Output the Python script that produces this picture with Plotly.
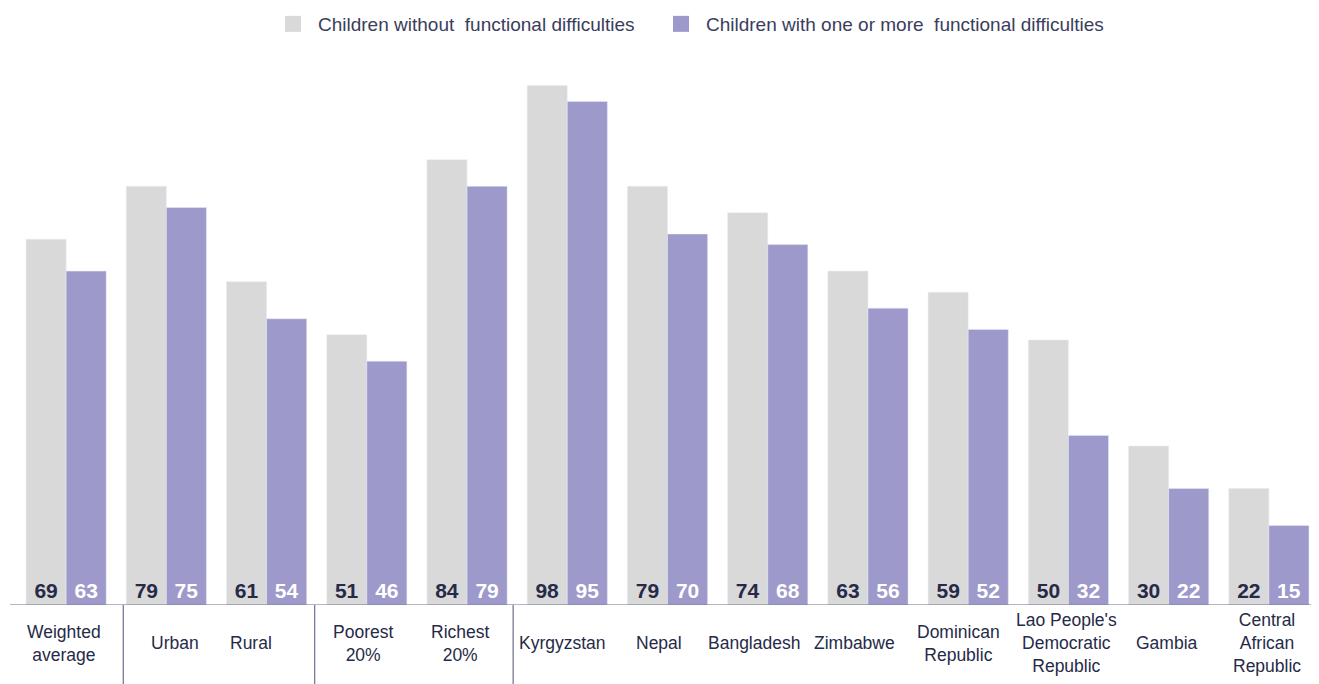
import plotly.graph_objects as go

categories = ["Weighted<br>average", "Urban", "Rural", "Poorest<br>20%", "Richest<br>20%",
              "Kyrgyzstan", "Nepal", "Bangladesh", "Zimbabwe", "Dominican<br>Republic",
              "Lao People's<br>Democratic<br>Republic", "Gambia", "Central<br>African<br>Republic"]
without_difficulties = [69, 79, 61, 51, 84, 98, 79, 74, 63, 59, 50, 30, 22]
with_difficulties = [63, 75, 54, 46, 79, 95, 70, 68, 56, 52, 32, 22, 15]
series_names = ["Children without  functional difficulties",
                "Children with one or more  functional difficulties"]
separators_after = [0, 2, 4]

GRAY = "#d9d9d9"
PURPLE = "#9d99ca"
NAVY = "#262a48"
LINE = "#6b6f8a"
FONT = "Liberation Sans, Arial, sans-serif"

# page has an 8px body margin: work in page pixels, convert to figure pixels
OFF = 8
W, H = 1319 - OFF, 684 - OFF
TOP, BASE = 60 - OFF, 605 - OFF   # plot area top / baseline in figure px
H_PLOT = BASE - TOP

x = list(range(len(categories)))

fig = go.Figure()
fig.add_bar(x=x, y=without_difficulties, name=series_names[0], marker_color=GRAY,
            text=without_difficulties, textposition="inside", insidetextanchor="start",
            textangle=0, showlegend=False,
            textfont=dict(family=FONT, size=21, color=NAVY, weight="bold"),
            hoverinfo="skip")
fig.add_bar(x=x, y=with_difficulties, name=series_names[1], marker_color=PURPLE,
            text=with_difficulties, textposition="inside", insidetextanchor="start",
            textangle=0, showlegend=False,
            textfont=dict(family=FONT, size=21, color="white", weight="bold"),
            hoverinfo="skip")
for name, col, lg in zip(series_names, [GRAY, PURPLE], ["legend", "legend2"]):
    fig.add_scatter(x=[None], y=[None], mode="markers", name=name, legend=lg,
                    marker=dict(symbol="square", size=17, color=col), hoverinfo="skip")

# small horizontal nudges of the category captions (style, px)
label_xshift = [-2, 9, -16, -4, -7, -5, -9, -14, -13, -10, -2, -2, -2]
CENTER = 643 - OFF
for i, c in enumerate(categories):
    fig.add_annotation(x=i, y=-(CENTER - BASE) / H_PLOT, xref="x", yref="paper", text=c,
                       showarrow=False, yanchor="middle", xanchor="center",
                       xshift=label_xshift[i],
                       font=dict(family=FONT, size=17.5, color=NAVY))

sep_adjust = [0.07, -0.02, -0.04]
for s, adj in zip(separators_after, sep_adjust):
    fig.add_shape(type="line", xref="x", yref="paper", x0=s + 0.5 + adj, x1=s + 0.5 + adj,
                  y0=0, y1=-(H - BASE) / H_PLOT, line=dict(color=LINE, width=1.2))

fig.add_shape(type="line", xref="paper", yref="y", x0=0, x1=1, y0=0, y1=0,
              line=dict(color=LINE, width=1.2))

legend_common = dict(orientation="h", xref="container", xanchor="left",
                     yref="container", y=1 - (24 - OFF) / H, yanchor="middle",
                     font=dict(family=FONT, size=19, color="#3a3d5c"),
                     itemwidth=40, bgcolor="rgba(0,0,0,0)")

fig.update_layout(
    width=W, height=H,
    margin=dict(l=10 - OFF, r=0, t=TOP, b=H - BASE, autoexpand=False),
    paper_bgcolor="white", plot_bgcolor="white",
    barmode="group", bargap=0.2, bargroupgap=0,
    font=dict(family=FONT, color=NAVY),
    showlegend=True,
    legend=dict(x=(268 - OFF) / W, **legend_common),
    legend2=dict(x=(656 - OFF) / W, **legend_common),
    xaxis=dict(range=[-0.56, 12.5], showticklabels=False, showgrid=False, zeroline=False,
               showline=False, ticks=""),
    yaxis=dict(range=[0, H_PLOT / 5.3], showticklabels=False, showgrid=False, zeroline=False,
               showline=False, ticks=""),
    uniformtext=dict(minsize=8, mode="show"),
)

fig.write_html("out.html")
